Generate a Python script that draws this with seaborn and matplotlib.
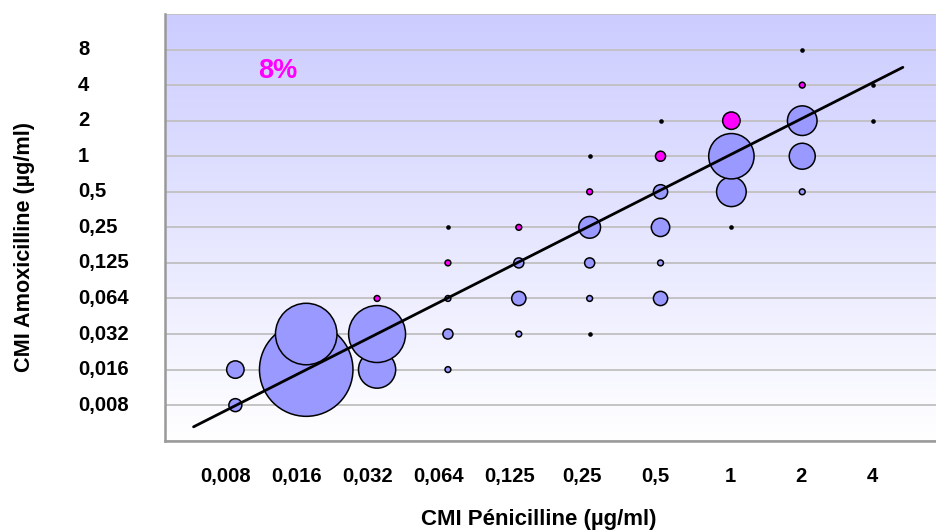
import numpy as np
import pandas as pd
import matplotlib
matplotlib.use("Agg")
import matplotlib.pyplot as plt
from matplotlib.colors import LinearSegmentedColormap
import seaborn as sns

# Doubling-dilution MIC scales (µg/ml) and their printed labels
pen_mics = [0.008, 0.016, 0.032, 0.064, 0.125, 0.25, 0.5, 1, 2, 4]
amox_mics = [0.008, 0.016, 0.032, 0.064, 0.125, 0.25, 0.5, 1, 2, 4, 8]
pen_labels = ["0,008", "0,016", "0,032", "0,064", "0,125", "0,25", "0,5", "1", "2", "4"]
amox_labels = ["0,008", "0,016", "0,032", "0,064", "0,125", "0,25", "0,5", "1", "2", "4", "8"]

# Number of strains for each (penicillin MIC, amoxicillin MIC) pair
main_pen = [0.008, 0.008, 0.016, 0.016, 0.032, 0.032, 0.064, 0.064, 0.064,
            0.125, 0.125, 0.125, 0.25, 0.25, 0.25, 0.5, 0.5, 0.5, 0.5,
            1, 1, 2, 2, 2]
main_amox = [0.008, 0.016, 0.016, 0.032, 0.016, 0.032, 0.016, 0.032, 0.064,
             0.032, 0.064, 0.125, 0.064, 0.125, 0.25, 0.064, 0.125, 0.25, 0.5,
             0.5, 1, 0.5, 1, 2]
main_count = [5, 9, 259, 112, 41, 96, 1, 3, 1,
              1, 6, 3, 1, 3, 14, 6, 1, 10, 6,
              26, 61, 1, 20, 26]

# Strains whose amoxicillin MIC is one dilution above the penicillin MIC
high_pen = [0.032, 0.064, 0.125, 0.25, 0.5, 1, 2]
high_amox = [0.064, 0.125, 0.25, 0.5, 1, 2, 4]
high_count = [1, 1, 1, 1, 3, 9, 1]

# Isolated strains drawn as plain points
dot_pen = [0.064, 0.25, 0.25, 0.5, 1, 2, 4, 4]
dot_amox = [0.25, 0.032, 1, 2, 0.25, 8, 4, 2]

# Linear trend in dilution steps
trend_slope = 1.01
trend_intercept = -0.024
trend_start, trend_end = 0.41, 10.42

high_share = "8%"

# Each MIC sits on its dilution step (1 = 0,008)
step = {m: i + 1 for i, m in enumerate(amox_mics)}

main_df = pd.DataFrame({"pen": [step[v] for v in main_pen],
                        "amox": [step[v] for v in main_amox],
                        "n": main_count}).sort_values(["pen", "amox"], kind="stable")
high_df = pd.DataFrame({"pen": [step[v] for v in high_pen],
                        "amox": [step[v] for v in high_amox],
                        "n": high_count})
dot_df = pd.DataFrame({"pen": [step[v] for v in dot_pen],
                       "amox": [step[v] for v in dot_amox]})
trend_x = np.array([trend_start, trend_end])
trend_df = pd.DataFrame({"x": trend_x, "y": trend_slope * trend_x + trend_intercept})

sns.set_style("white")
plt.rcParams["font.family"] = ["Liberation Sans", "DejaVu Sans"]

W, H = 936, 531
fig = plt.figure(figsize=(W / 100, H / 100), dpi=100)
ax_l, ax_r, ax_t, ax_b = 164.5, 936.0, 14.0, 440.7
ax = fig.add_axes([ax_l / W, 1 - ax_b / H, (ax_r - ax_l) / W, (ax_b - ax_t) / H])
n_rows = len(amox_mics) + 1
x_max = (ax_r - ax_l) / 70.86

# Lavender-to-white vertical gradient behind the plot
bg = LinearSegmentedColormap.from_list("bg", ["#FFFFFF", "#CCCCFF"])
ax.imshow(np.linspace(0, 1, 256).reshape(-1, 1), extent=[0, x_max, 0, n_rows],
          origin="lower", cmap=bg, aspect="auto", zorder=0, interpolation="bilinear")

unit_area = 17.5
vmax = max(main_count)
sns.scatterplot(data=main_df, x="pen", y="amox", size="n",
                sizes=(unit_area, unit_area * vmax), size_norm=(1, vmax),
                color="#9999FF", edgecolor="black", linewidth=1.1,
                legend=False, ax=ax, zorder=2)
sns.scatterplot(data=high_df, x="pen", y="amox", size="n",
                sizes=(unit_area, unit_area * vmax), size_norm=(1, vmax),
                color="#FF00FF", edgecolor="black", linewidth=1.1,
                legend=False, ax=ax, zorder=2)
sns.scatterplot(data=dot_df, x="pen", y="amox", s=11, color="black",
                linewidth=0, legend=False, ax=ax, zorder=3)
sns.lineplot(data=trend_df, x="x", y="y", color="black", linewidth=2.0,
             ax=ax, zorder=4)

ax.set_xlim(0, x_max)
ax.set_ylim(0, n_rows)
ax.set_xticks(range(0, len(pen_mics) + 1))
ax.set_yticks(range(0, n_rows + 1))
ax.set_xlabel("")
ax.set_ylabel("")
ax.yaxis.grid(True, color="#C0C0C0", linewidth=1.3, zorder=0.5)
ax.xaxis.grid(False)
ax.set_axisbelow(True)
ax.tick_params(axis="both", direction="out", length=8.6, width=1.5,
               color="#999999", labelleft=False, labelbottom=False)
for side in ("top", "right"):
    ax.spines[side].set_visible(False)
for side in ("left", "bottom"):
    ax.spines[side].set_color("#999999")
    ax.spines[side].set_linewidth(1.8)

px = 0.72  # points per pixel at 100 dpi
tick_fs = 14.6
for mic, lab in zip(pen_mics, pen_labels):
    shift = -(len(lab) - 1) * 2.1 - 1.0
    ax.annotate(lab, xy=(step[mic], 0), xycoords=("data", "axes fraction"),
                xytext=(shift * px, -26.0 * px), textcoords="offset points",
                ha="center", va="top", fontsize=tick_fs, fontweight="bold",
                color="black", annotation_clip=False)
for mic, lab in zip(amox_mics, amox_labels):
    ax.annotate(lab, xy=(0, step[mic]), xycoords=("axes fraction", "data"),
                xytext=(-86.5 * px, 0), textcoords="offset points",
                ha="left", va="center", fontsize=tick_fs, fontweight="bold",
                color="black", annotation_clip=False)

fig.text(538.8 / W, 1 - 525 / H, "CMI Pénicilline (µg/ml)", ha="center",
         va="baseline", fontsize=16, fontweight="bold", color="black")
fig.text(24.3 / W, 1 - 247.4 / H, "CMI Amoxicilline (µg/ml)", rotation=90,
         ha="center", va="center", fontsize=15.6, fontweight="bold", color="black")
fig.text(278 / W, 1 - 78 / H, high_share, ha="center", va="baseline",
         fontsize=19.5, fontweight="bold", color="#FF00FF")

fig.savefig("out.png", dpi=100)
